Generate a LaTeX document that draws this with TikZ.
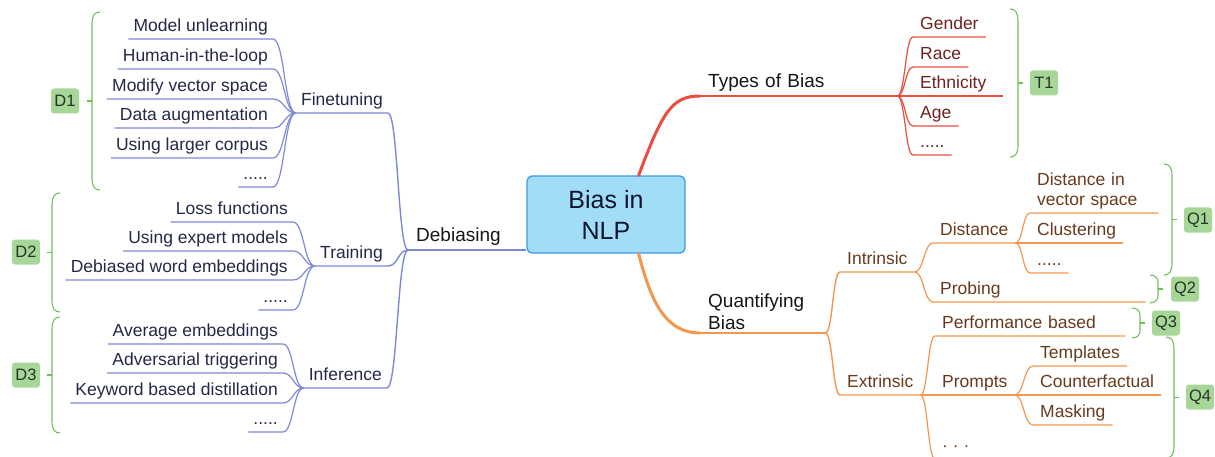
\documentclass[tikz,border=0pt]{standalone}
\usepackage{fontspec}
\setmainfont{Liberation Sans}
\usetikzlibrary{calc}

\definecolor{rootfill}{RGB}{161,221,246}
\definecolor{rootdraw}{RGB}{62,156,226}
\definecolor{rootink}{RGB}{14,20,48}
\definecolor{mainink}{RGB}{22,22,22}
\definecolor{blueline}{RGB}{126,137,212}
\definecolor{blueink}{RGB}{36,40,72}
\definecolor{redline}{RGB}{232,78,64}
\definecolor{redink}{RGB}{112,32,30}
\definecolor{orangeline}{RGB}{243,150,78}
\definecolor{orangeink}{RGB}{104,58,28}
\definecolor{tagline}{RGB}{112,190,92}
\definecolor{tagfill}{RGB}{166,214,152}
\definecolor{tagink}{RGB}{38,52,38}

\tikzstyle{root} = [rectangle, rounded corners=5pt, minimum width=158pt, minimum height=77pt, align=center, draw=rootdraw, line width=1.3pt, fill=rootfill, text=rootink, font=\fontsize{25}{31}\selectfont]
\tikzstyle{branch} = [inner xsep=8pt, inner ysep=3.5pt, text height=14pt, text depth=4.5pt, text=mainink, font=\fontsize{19}{22}\selectfont]
\tikzstyle{topic} = [inner xsep=7pt, inner ysep=3.5pt, text height=13pt, text depth=4pt, font=\fontsize{17.5}{20}\selectfont]
\tikzstyle{twolines} = [text height=, text depth=, align=left]
\tikzstyle{lefttopic} = [topic, inner xsep=5pt, anchor=south east, text=blueink]
\tikzstyle{redtopic} = [topic, anchor=south west, text=redink]
\tikzstyle{orangetopic} = [topic, anchor=south west, text=orangeink]
\tikzstyle{tag} = [rectangle, rounded corners=3pt, fill=tagfill, text=tagink, minimum width=28pt, minimum height=25pt, inner sep=0pt, font=\fontsize{16.5}{18}\selectfont]
\tikzstyle{bline} = [draw=blueline, line width=1.2pt]
\tikzstyle{rline} = [draw=redline, line width=1.2pt]
\tikzstyle{oline} = [draw=orangeline, line width=1.2pt]
\tikzstyle{braceline} = [draw=tagline, line width=1.1pt]

\tikzset{
  sbranch/.style={to path={.. controls ($(\tikztostart)!0.5!(\tikztostart-|\tikztotarget)$) and ($(\tikztotarget)!0.5!(\tikztotarget-|\tikztostart)$) .. (\tikztotarget) \tikztonodes}}
}

% brace: ends x, top, bottom, curl
\newcommand{\tagbraceright}[4]{%
  \draw[braceline] (#1,#2) .. controls ({#1+5},#2) and ({#1+8},{#2+3}) .. ({#1+8},{#2+#4}) -- ({#1+8},{#3-#4}) .. controls ({#1+8},{#3-3}) and ({#1+5},#3) .. (#1,#3);
  \draw[braceline] ({#1+8},{(#2+#3)/2}) -- ({#1+13},{(#2+#3)/2});}
\newcommand{\tagbraceleft}[4]{%
  \draw[braceline] (#1,#2) .. controls ({#1-5},#2) and ({#1-8},{#2+3}) .. ({#1-8},{#2+#4}) -- ({#1-8},{#3-#4}) .. controls ({#1-8},{#3-3}) and ({#1-5},#3) .. (#1,#3);
  \draw[braceline] ({#1-8},{(#2+#3)/2}) -- ({#1-13},{(#2+#3)/2});}

\begin{document}
\begin{tikzpicture}[x=1pt, y=-1pt]
  \useasboundingbox (0,0) rectangle (1215,457);

  \node[root] (nlp) at (606,214.5) {Bias in\\NLP};

  % main branches
  \node[branch, anchor=south west, text width=181pt, align=left] (types) at (700,96) {Types of Bias};
  \node[branch, twolines, anchor=south west, text width=109pt] (quant) at (700,333) {Quantifying\\Bias};
  \node[branch, anchor=south west] (deb) at (408,250) {Debiasing};

  % debiasing
  \node[lefttopic] (fine) at (388,113) {Finetuning};
  \node[lefttopic] (train) at (388,266) {Training};
  \node[lefttopic] (infer) at (387,388) {Inference};

  \node[lefttopic] (ml) at (273,39) {Model unlearning};
  \node[lefttopic] (hil) at (273,69) {Human-in-the-loop};
  \node[lefttopic] (mvs) at (273,99) {Modify vector space};
  \node[lefttopic] (da) at (273,128) {Data augmentation};
  \node[lefttopic] (ulc) at (273,158) {Using larger corpus};
  \node[lefttopic] (fdots) at (273,187) {.....};

  \node[lefttopic] (lf) at (293,222) {Loss functions};
  \node[lefttopic] (uem) at (293,251) {Using expert models};
  \node[lefttopic] (dwe) at (293,280) {Debiased word embeddings};
  \node[lefttopic] (tdots) at (293,310) {.....};

  \node[lefttopic] (ae) at (283,344) {Average embeddings};
  \node[lefttopic] (at) at (283,373) {Adversarial triggering};
  \node[lefttopic] (kbd) at (283,403) {Keyword based distillation};
  \node[lefttopic] (idots) at (283,432) {.....};

  % types of bias
  \node[redtopic] (gender) at (913,37) {Gender};
  \node[redtopic] (race) at (913,67) {Race};
  \node[redtopic, text width=76pt, align=left] (eth) at (913,96) {Ethnicity};
  \node[redtopic] (age) at (913,126) {Age};
  \node[redtopic] (rdots) at (913,155) {.....};

  % quantifying bias
  \node[orangetopic] (intr) at (840,272) {Intrinsic};
  \node[orangetopic] (extr) at (840,395) {Extrinsic};
  \node[orangetopic] (dist) at (933,243) {Distance};
  \node[orangetopic, text width=198pt, align=left] (prob) at (933,302) {Probing};
  \node[orangetopic, twolines, text width=114pt] (dvs) at (1030,213) {Distance in\\vector space};
  \node[orangetopic] (clus) at (1030,243) {Clustering};
  \node[orangetopic] (ddots) at (1030,273) {.....};
  \node[orangetopic, text width=176pt, align=left] (perf) at (935,336) {Performance based};
  \node[orangetopic] (prom) at (935,395) {Prompts};
  \node[orangetopic] (edots) at (935,459) {· · ·};
  \node[orangetopic] (templ) at (1033,366) {Templates};
  \node[orangetopic] (cfact) at (1033,395) {Counterfactual};
  \node[orangetopic] (mask) at (1033,425) {Masking};

  % tags
  \node[tag] (t1) at (1044,83) {T1};
  \node[tag] (q1) at (1198,220) {Q1};
  \node[tag] (q2) at (1185,289) {Q2};
  \node[tag] (q3) at (1166,323) {Q3};
  \node[tag] (q4) at (1200,397) {Q4};
  \node[tag] (d1) at (65,101) {D1};
  \node[tag] (d2) at (26,252) {D2};
  \node[tag] (d3) at (26,375) {D3};

  % connectors
  \draw[redline, line width=3pt, line cap=round] ([xshift=-47pt]nlp.north east) .. controls +(24,-64) and +(-28,0) .. (types.south west);
  \draw[redline, line width=1.8pt] (types.south west) -- (types.south east);
  \draw[rline] (types.south east) to[sbranch] (gender.south west) -- (gender.south east);
  \draw[rline] (types.south east) to[sbranch] (race.south west) -- (race.south east);
  \draw[rline] (types.south east) to[sbranch] (eth.south west) -- (eth.south east);
  \draw[rline] (types.south east) to[sbranch] (age.south west) -- (age.south east);
  \draw[rline] (types.south east) to[sbranch] (rdots.south west) -- (rdots.south east);

  \draw[orangeline, line width=3pt, line cap=round] ([xshift=-47pt]nlp.south east) .. controls +(12,47) and +(-35,0) .. (quant.south west);
  \draw[orangeline, line width=1.8pt] (quant.south west) -- (quant.south east);
  \draw[oline, line width=1.4pt] (quant.south east) to[sbranch] (intr.south west) -- (intr.south east);
  \draw[oline, line width=1.4pt] (quant.south east) to[sbranch] (extr.south west) -- (extr.south east);
  \draw[oline] (intr.south east) to[sbranch] (dist.south west) -- (dist.south east);
  \draw[oline] (intr.south east) to[sbranch] (prob.south west) -- (prob.south east);
  \draw[oline] (dist.south east) to[sbranch] (dvs.south west) -- (dvs.south east);
  \draw[oline] (dist.south east) to[sbranch] (clus.south west) -- (clus.south east);
  \draw[oline] (dist.south east) to[sbranch] (ddots.south west) -- (ddots.south east);
  \draw[oline] (extr.south east) to[sbranch] (perf.south west) -- (perf.south east);
  \draw[oline] (extr.south east) to[sbranch] (prom.south west) -- (prom.south east);
  \draw[oline] (extr.south east) to[sbranch] (edots.south west) -- (edots.south east);
  \draw[oline] (prom.south east) to[sbranch] (templ.south west) -- (templ.south east);
  \draw[oline] (prom.south east) to[sbranch] (cfact.south west) -- (cfact.south east);
  \draw[oline] (prom.south east) to[sbranch] (mask.south west) -- (mask.south east);

  \draw[blueline, line width=2pt] (nlp.west |- deb.south east) -- (deb.south west);
  \draw[bline, line width=1.4pt] (deb.south west) to[sbranch] (fine.south east) -- (fine.south west);
  \draw[bline, line width=1.4pt] (deb.south west) to[sbranch] (train.south east) -- (train.south west);
  \draw[bline, line width=1.4pt] (deb.south west) to[sbranch] (infer.south east) -- (infer.south west);
  \draw[bline] (fine.south west) to[sbranch] (ml.south east) -- (ml.south west);
  \draw[bline] (fine.south west) to[sbranch] (hil.south east) -- (hil.south west);
  \draw[bline] (fine.south west) to[sbranch] (mvs.south east) -- (mvs.south west);
  \draw[bline] (fine.south west) to[sbranch] (da.south east) -- (da.south west);
  \draw[bline] (fine.south west) to[sbranch] (ulc.south east) -- (ulc.south west);
  \draw[bline] (fine.south west) to[sbranch] (fdots.south east) -- (fdots.south west);
  \draw[bline] (train.south west) to[sbranch] (lf.south east) -- (lf.south west);
  \draw[bline] (train.south west) to[sbranch] (uem.south east) -- (uem.south west);
  \draw[bline] (train.south west) to[sbranch] (dwe.south east) -- (dwe.south west);
  \draw[bline] (train.south west) to[sbranch] (tdots.south east) -- (tdots.south west);
  \draw[bline] (infer.south west) to[sbranch] (ae.south east) -- (ae.south west);
  \draw[bline] (infer.south west) to[sbranch] (at.south east) -- (at.south west);
  \draw[bline] (infer.south west) to[sbranch] (kbd.south east) -- (kbd.south west);
  \draw[bline] (infer.south west) to[sbranch] (idots.south east) -- (idots.south west);

  % braces
  \tagbraceright{1010}{9}{157}{12}
  \tagbraceright{1164}{164}{275}{12}
  \tagbraceright{1150}{275}{303}{7}
  \tagbraceright{1132}{308}{338}{7}
  \tagbraceright{1166}{337}{458}{12}
  \tagbraceleft{100}{12}{190}{12}
  \tagbraceleft{60}{193}{312}{12}
  \tagbraceleft{60}{317}{433}{12}
\end{tikzpicture}
\end{document}
